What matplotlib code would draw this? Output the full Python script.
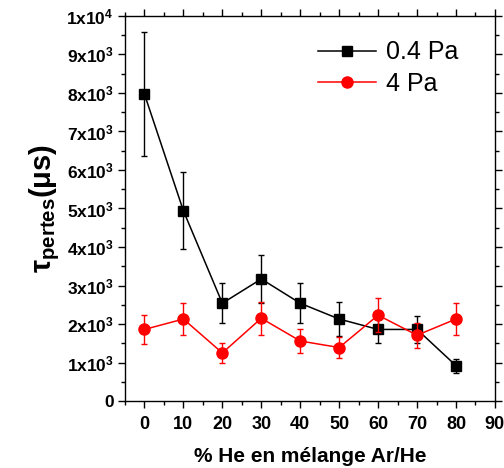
import numpy as np
import matplotlib
matplotlib.use('Agg')
import matplotlib.pyplot as plt
from matplotlib.ticker import MultipleLocator, FuncFormatter
from matplotlib.lines import Line2D

plt.rcParams['font.family'] = ['Liberation Sans', 'DejaVu Sans']
plt.rcParams['mathtext.fontset'] = 'custom'
plt.rcParams['mathtext.rm'] = 'Liberation Sans:bold'
plt.rcParams['mathtext.it'] = 'Liberation Sans:bold'
plt.rcParams['mathtext.bf'] = 'Liberation Sans:bold'
plt.rcParams['mathtext.default'] = 'bf'

## data
he_pct = [0, 10, 20, 30, 40, 50, 60, 70, 80]
tau_04Pa = [7970, 4940, 2540, 3170, 2540, 2130, 1860, 1860, 920]
err_04Pa = [1600, 1000, 520, 630, 520, 430, 360, 360, 180]
tau_4Pa = [1860, 2130, 1250, 2150, 1560, 1390, 2230, 1710, 2130]
err_4Pa = [370, 420, 250, 430, 300, 280, 440, 330, 420]
labels = ['0.4 Pa', '4 Pa']

fig = plt.figure(figsize=(5.04, 4.68), dpi=100)
ax = fig.add_axes([0.248, 0.143, 0.734, 0.823])

ax.errorbar(he_pct, tau_04Pa, yerr=err_04Pa, color='k', marker='s', markersize=7,
            lw=1.1, elinewidth=1, capsize=2.2, capthick=1, zorder=3)
ax.errorbar(he_pct, tau_4Pa, yerr=err_4Pa, color='red', marker='o', markersize=8,
            lw=1.1, elinewidth=1, capsize=2.2, capthick=1, zorder=4)

ax.set_xlim(-5, 90)
ax.set_ylim(0, 10000)
ax.xaxis.set_major_locator(MultipleLocator(10))
ax.xaxis.set_minor_locator(MultipleLocator(5))
ax.yaxis.set_major_locator(MultipleLocator(1000))
ax.yaxis.set_minor_locator(MultipleLocator(500))

def yfmt(v, pos):
    if v == 0:
        return '0'
    if v >= 10000:
        return r'$\mathbf{1x10^{4}}$'
    return r'$\mathbf{%dx10^{3}}$' % round(v / 1000)

ax.yaxis.set_major_formatter(FuncFormatter(yfmt))
ax.tick_params(which='both', direction='out', top=True, right=True, width=1)
ax.tick_params(which='major', length=5)
ax.tick_params(which='minor', length=3)
ax.tick_params(axis='x', labelsize=13, pad=6)
ax.tick_params(axis='y', labelsize=12.5, pad=3)
for lab in ax.get_xticklabels() + ax.get_yticklabels():
    lab.set_fontweight('bold')
for s in ax.spines.values():
    s.set_linewidth(1)

ax.set_xlabel('% He en mélange Ar/He', fontsize=15, fontweight='bold', labelpad=10)
ax.set_ylabel(r'$\tau_{pertes}(\mu s)$', fontsize=21, labelpad=3)

# legend without error bars, like the original
handles = [Line2D([], [], color='k', marker='s', markersize=7, lw=1.1),
           Line2D([], [], color='red', marker='o', markersize=8, lw=1.1)]
ax.legend(handles, labels, loc='upper right', frameon=False, fontsize=18,
          handlelength=2.3, handletextpad=0.4, labelspacing=0.3,
          bbox_to_anchor=(0.962, 0.995))

fig.savefig('out.png', dpi=100)
